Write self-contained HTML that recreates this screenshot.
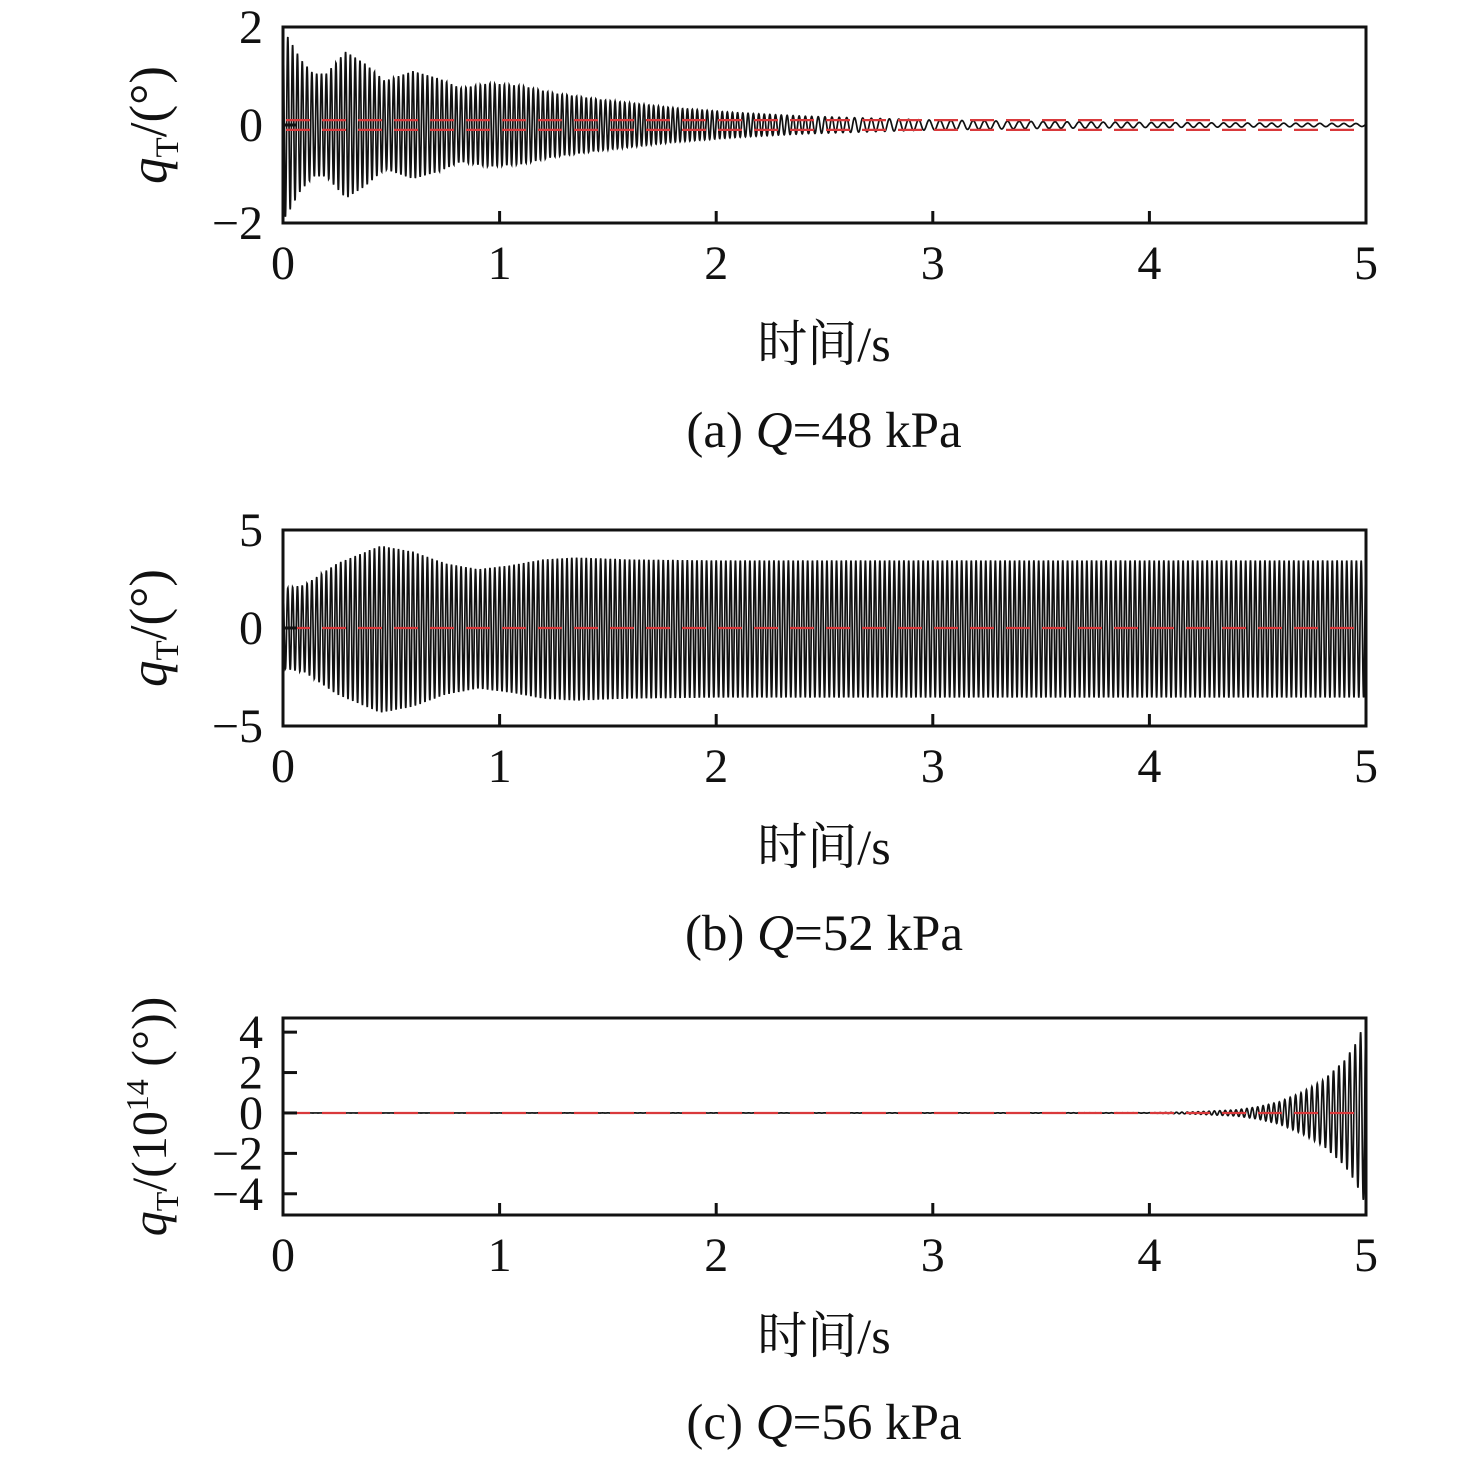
<!DOCTYPE html>
<html><head><meta charset="utf-8"><style>
html,body{margin:0;padding:0;background:#fff;}
svg{display:block;font-family:"Liberation Serif","Noto Serif CJK SC","Noto Sans CJK SC",serif;}
</style></head><body>
<svg id="chart" width="1476" height="1457" viewBox="0 0 1476 1457" xmlns="http://www.w3.org/2000/svg"></svg>
<script>
// ----- data -----
const xTicks = [0,1,2,3,4,5];
// panel a: envelope (deg) vs time
const aTimes = [0,0.03,0.08,0.14,0.2,0.29,0.38,0.47,0.6,0.72,0.82,0.95,1.1,1.25,1.5,1.8,2.1,2.4,2.7,3.0,3.5,4.0,4.5,5.0];
const aEnv   = [1.95,1.75,1.35,1.05,1.05,1.5,1.25,0.9,1.1,0.95,0.75,0.85,0.8,0.65,0.5,0.35,0.25,0.18,0.14,0.1,0.07,0.05,0.04,0.03];
const aFreq  = [45,45,45,45,45,45,45,45,45,45,45,45,45,45,45,45,42,35,25,20,18,18,18,18];
const aYTicks = [-2,0,2];
const aRef = [-0.1,0.1];
// panel b
const bTimes = [0,0.1,0.25,0.45,0.6,0.75,0.9,1.05,1.2,1.35,1.6,2.0,2.5,3.0,4.0,5.0];
const bEnv   = [2.0,2.2,3.3,4.2,3.9,3.3,3.0,3.2,3.5,3.6,3.5,3.45,3.45,3.45,3.45,3.45];
const bFreq  = [45,45,45,45,45,45,45,45,45,45,45,45,45,45,45,45];
const bYTicks = [-5,0,5];
const bRef = [0];
// panel c (x10^14)
const cTimes = [0,4.0,4.2,4.4,4.5,4.6,4.7,4.8,4.9,4.95,5.0];
const cEnv   = [0,0.01,0.05,0.15,0.3,0.55,1.0,1.6,2.6,3.4,4.6];
const cFreq  = [40,40,40,40,40,40,40,40,40,40,40];
const cYTicks = [-4,-2,0,2,4];
const cRef = [0];

const NS="http://www.w3.org/2000/svg";
const svg=document.getElementById('chart');
function mk(tag,attrs,parent){const e=document.createElementNS(NS,tag);for(const k in attrs)e.setAttribute(k,attrs[k]);(parent||svg).appendChild(e);return e;}
function interp(ts,vs,t){if(t<=ts[0])return vs[0];for(let i=1;i<ts.length;i++){if(t<=ts[i]){const f=(t-ts[i-1])/(ts[i]-ts[i-1]);return vs[i-1]+f*(vs[i]-vs[i-1]);}}return vs[vs.length-1];}

function panel(p){
  const L=283,R=1366,T=p.top,B=p.bottom;
  const xs=t=>L+(t/5)*(R-L);
  const ys=v=>T+(p.ymax-v)/(p.ymax-p.ymin)*(B-T);
  const g=mk('g',{});
  
  
  let pts=[];let phase=0;const N=6000;
  for(let i=0;i<=N;i++){const t=5*i/N;const f=interp(p.times,p.freq,t);if(i>0)phase+=2*Math.PI*f*5/N;
    const env=interp(p.times,p.env,t);const v=env*Math.cos(phase)*(Math.cos(phase)<0?p.negScale:1);
    pts.push(xs(t).toFixed(2)+','+ys(v).toFixed(2));}
  const line=mk('polyline',{points:pts.join(' '),fill:'none',stroke:'#111','stroke-width':1.7},g);
  
  
  p.ref.forEach(r=>{const l=mk('line',{x1:L+3,x2:R-8,y1:ys(r),y2:ys(r),stroke:'#d9393b','stroke-width':2.2,'stroke-dasharray':'24,12'},g);
    
    });
  const fr=mk('rect',{x:L,y:T,width:R-L,height:B-T,fill:'none',stroke:'#111','stroke-width':3},g);
  
  
  xTicks.forEach(v=>{mk('line',{x1:xs(v),x2:xs(v),y1:B,y2:B-12,stroke:'#111','stroke-width':3},g);
    const tx=mk('text',{x:xs(v),y:B+56,'font-size':48,'text-anchor':'middle',fill:'#111'},g);tx.textContent=v;
    
    });
  p.yticks.forEach(v=>{mk('line',{x1:L,x2:L+14,y1:ys(v),y2:ys(v),stroke:'#111','stroke-width':3},g);
    const tx=mk('text',{x:L-20,y:ys(v)+16,'font-size':48,'text-anchor':'end',fill:'#111'},g);tx.textContent=(v<0?'\u2212'+(-v):v);
    
    });
  const yl=mk('text',{transform:`translate(${p.ylx},${(T+B)/2}) rotate(-90)`,'font-size':p.ylfs,'text-anchor':'middle',fill:'#111'},g);
  yl.innerHTML=p.ylabel;
  
  
  const xl=mk('text',{x:824,y:B+138,'font-size':50,'text-anchor':'middle',fill:'#111'},g);xl.textContent='时间/s';
  
  
  const cap=mk('text',{x:824,y:B+224,'font-size':51,'text-anchor':'middle',fill:'#111'},g);
  cap.innerHTML=p.caption;
  
  
}
const qlab='<tspan font-style="italic">q</tspan><tspan font-size="33" dy="12">T</tspan><tspan dy="-12">/(°)</tspan>';
panel({name:'panel-a',top:27,bottom:223,ymin:-2,ymax:2,times:aTimes,env:aEnv,freq:aFreq,yticks:aYTicks,ref:aRef,negScale:1,ylx:166,ylfs:53,ylabel:qlab,caption:'(a) <tspan font-style="italic">Q</tspan>=48 kPa'});
panel({name:'panel-b',top:530,bottom:726,ymin:-5,ymax:5,times:bTimes,env:bEnv,freq:bFreq,yticks:bYTicks,ref:bRef,negScale:1.03,ylx:166,ylfs:53,ylabel:qlab,caption:'(b) <tspan font-style="italic">Q</tspan>=52 kPa'});
panel({name:'panel-c',top:1018,bottom:1215,ymin:-5.05,ymax:4.7,times:cTimes,env:cEnv,freq:cFreq,yticks:cYTicks,ref:cRef,negScale:1.0,ylx:166,ylfs:50,
  ylabel:'<tspan font-style="italic">q</tspan><tspan font-size="32" dy="12">T</tspan><tspan dy="-12">/(10</tspan><tspan font-size="32" dy="-18">14</tspan><tspan dy="18"> (°))</tspan>',
  caption:'(c) <tspan font-style="italic">Q</tspan>=56 kPa'});
</script>
</body></html>
